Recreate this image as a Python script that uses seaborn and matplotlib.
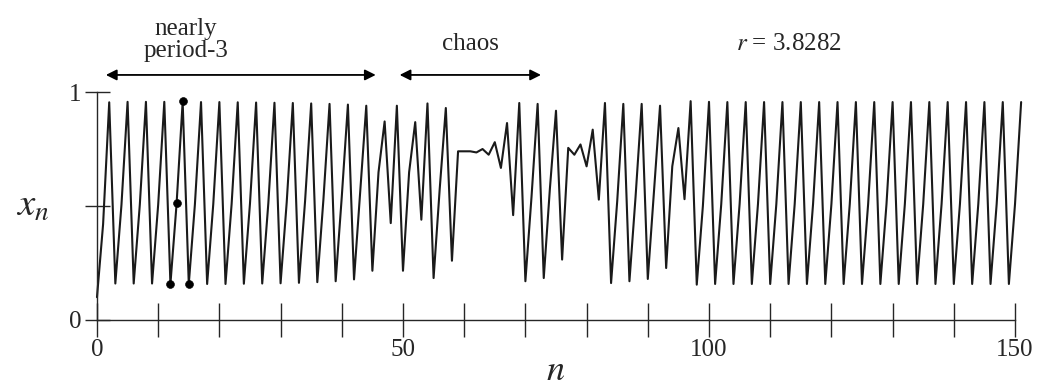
import numpy as np
import pandas as pd
import matplotlib
matplotlib.use('Agg')
import matplotlib.pyplot as plt
import seaborn as sns

# x_n values, n = 0 .. 151 (three per row: low, mid, high)
x_vals = [
    0.100, 0.420, 0.955,
    0.160, 0.505, 0.957,
    0.160, 0.506, 0.957,
    0.160, 0.506, 0.957,
    0.158, 0.507, 0.957,
    0.158, 0.507, 0.956,
    0.158, 0.508, 0.956,
    0.158, 0.509, 0.955,
    0.159, 0.511, 0.954,
    0.160, 0.513, 0.953,
    0.161, 0.516, 0.952,
    0.163, 0.521, 0.950,
    0.166, 0.529, 0.948,
    0.170, 0.541, 0.945,
    0.178, 0.560, 0.940,
    0.216, 0.648, 0.871,
    0.425, 0.940, 0.216,
    0.648, 0.868, 0.440,
    0.950, 0.184, 0.575,
    0.930, 0.260, 0.740,
    0.740, 0.740, 0.735,
    0.750, 0.725, 0.780,
    0.667, 0.864, 0.460,
    0.952, 0.170, 0.540,
    0.948, 0.184, 0.575,
    0.918, 0.265, 0.755,
    0.725, 0.770, 0.674,
    0.835, 0.528, 0.952,
    0.162, 0.520, 0.948,
    0.170, 0.540, 0.948,
    0.180, 0.560, 0.940,
    0.228, 0.674, 0.842,
    0.530, 0.960, 0.155,
    0.500, 0.957, 0.158,
    0.508, 0.956, 0.158,
    0.508, 0.956, 0.158,
    0.508, 0.956, 0.158,
    0.508, 0.956, 0.158,
    0.508, 0.956, 0.158,
    0.508, 0.956, 0.158,
    0.508, 0.956, 0.158,
    0.508, 0.956, 0.158,
    0.508, 0.956, 0.158,
    0.508, 0.956, 0.158,
    0.508, 0.956, 0.158,
    0.508, 0.956, 0.158,
    0.508, 0.956, 0.158,
    0.508, 0.956, 0.158,
    0.508, 0.956, 0.158,
    0.508, 0.956, 0.158,
    0.508, 0.956,
]
n_vals = list(range(len(x_vals)))

# highlighted points of the period-3 cycle
dot_n = [12, 13, 14, 15]
dot_x = [0.157, 0.513, 0.962, 0.157]

x_major = [0, 50, 100, 150]
x_minor = [10, 20, 30, 40, 60, 70, 80, 90, 110, 120, 130, 140]

df = pd.DataFrame({'n': n_vals, 'x': x_vals})
dots = pd.DataFrame({'n': dot_n, 'x': dot_x})

sns.set_style('ticks')
plt.rcParams['font.family'] = ['Liberation Serif', 'DejaVu Serif']
plt.rcParams['mathtext.fontset'] = 'stix'

fig = plt.figure(figsize=(10.45, 3.89), dpi=100)
ax = fig.add_axes([0.0928, 0.1774, 0.8785, 0.586])

sns.lineplot(data=df, x='n', y='x', ax=ax, color='#1a1a1a', linewidth=1.5,
             sort=False, estimator=None, clip_on=False)
sns.scatterplot(data=dots, x='n', y='x', ax=ax, color='black', s=32,
                edgecolor='black', zorder=5, clip_on=False)

ax.set_xlim(0, 150)
ax.set_ylim(0, 1)
ax.set_xticks(x_major)
ax.set_xticks(x_minor, minor=True)
ax.set_xticklabels(['0', '50', '100', '150'], fontsize=18)
ax.set_yticks([0, 0.5, 1])
ax.set_yticklabels(['0', '', '1'], fontsize=18)
ax.tick_params(axis='x', which='both', direction='inout', length=24, width=1.0, pad=2)
ax.tick_params(axis='y', direction='inout', length=18, width=1.0, pad=2)

sns.despine(ax=ax)
ax.spines['left'].set_bounds(0, 1)
ax.spines['bottom'].set_linewidth(1.0)
ax.spines['left'].set_linewidth(1.0)

ax.set_xlabel('$n$', fontsize=26, va='center')
ax.xaxis.set_label_coords(0.5, -0.225)
ax.set_ylabel('$x_n$', fontsize=28, rotation=0, va='center')
ax.yaxis.set_label_coords(-0.07, 0.5)

# annotations above the plot
arrow = dict(arrowstyle='<|-|>', color='black', lw=1.3, mutation_scale=16)
ax.annotate('', xy=(1, 1.075), xytext=(46, 1.075), arrowprops=arrow,
            annotation_clip=False)
ax.annotate('', xy=(49, 1.075), xytext=(73, 1.075), arrowprops=arrow,
            annotation_clip=False)
ax.text(14.5, 1.23, 'nearly\nperiod-3', fontsize=18, ha='center', va='center',
        linespacing=1.0)
ax.text(61, 1.21, 'chaos', fontsize=18, ha='center', va='center')
ax.text(113, 1.21, '$r$ = 3.8282', fontsize=18, ha='center', va='center')

plt.savefig('out.png', dpi=100)
